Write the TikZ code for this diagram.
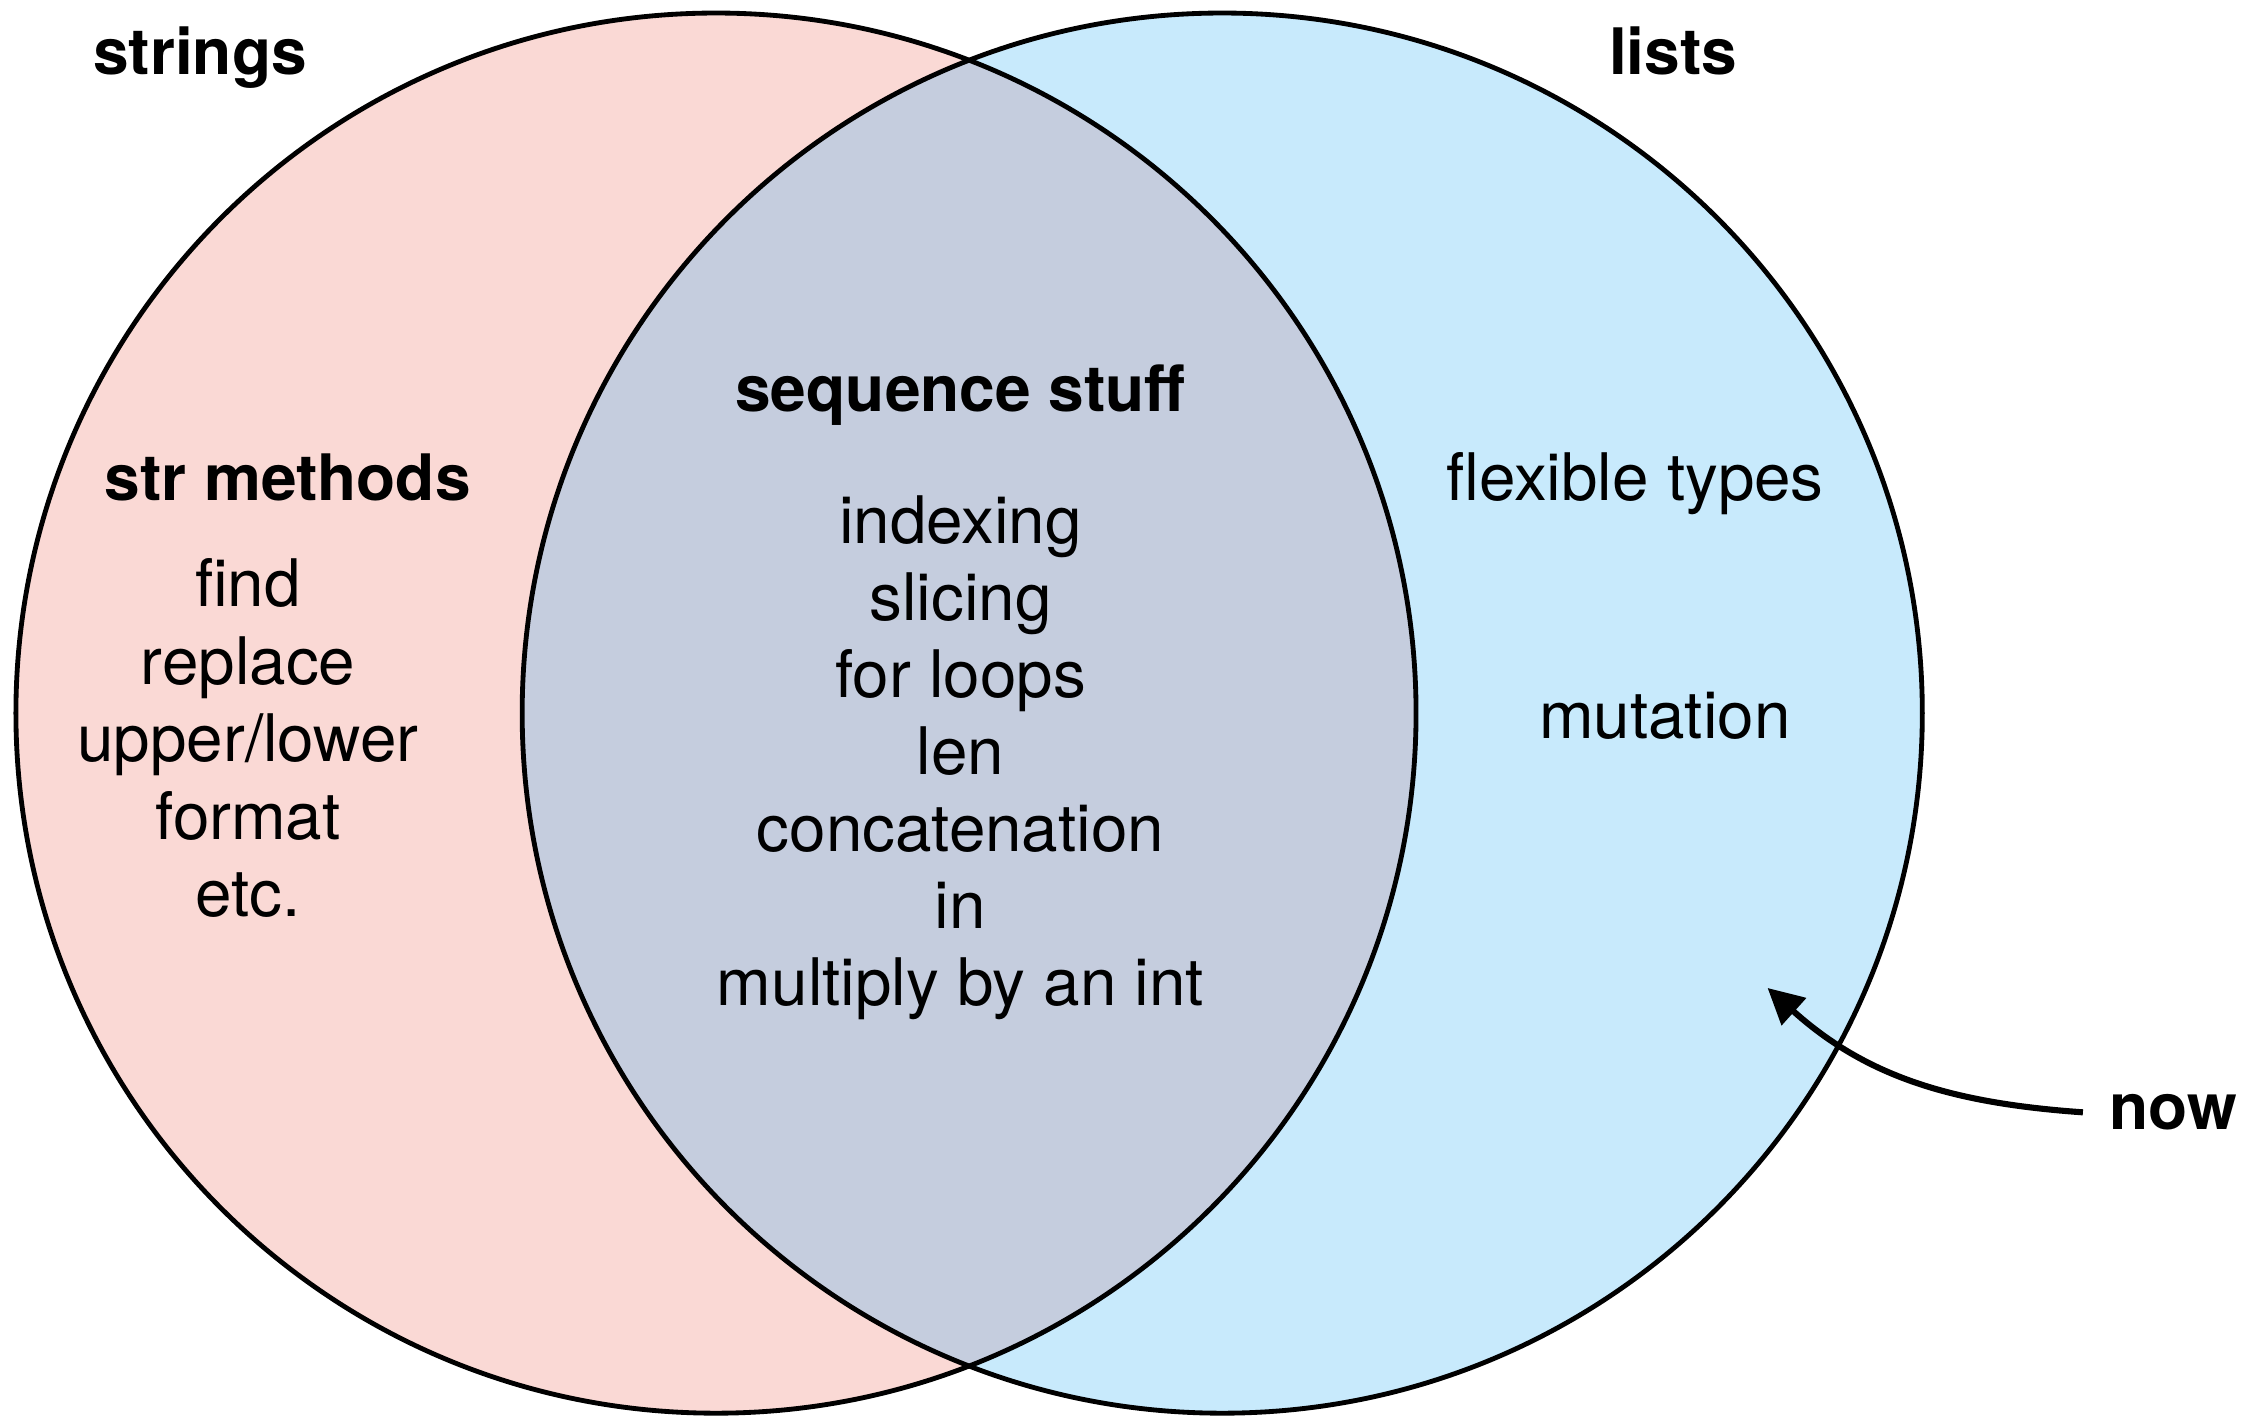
\documentclass[tikz,border=0pt]{standalone}
\usepackage{fontspec}
\setmainfont{TeX Gyre Heros}
\usetikzlibrary{arrows.meta}
\definecolor{strpink}{RGB}{250,217,213}
\definecolor{listblue}{RGB}{200,234,252}
\definecolor{seqgrey}{RGB}{197,205,222}
\tikzset{
  settitle/.style={font=\fontsize{12.6}{15}\selectfont\bfseries, inner sep=0pt, anchor=base},
  setitem/.style={font=\fontsize{12.9}{15}\selectfont, inner sep=0pt, anchor=base},
  setline/.style={line width=0.95pt}
}
\begin{document}
\begin{tikzpicture}
\useasboundingbox (0, 0) rectangle (15.68, 9.80);
\coordinate (strs) at (4.95, 4.87);
\coordinate (lsts) at (8.45, 4.87);
% the two sets and their overlap
\fill[strpink] (strs) circle (4.84);
\fill[listblue] (lsts) circle (4.84);
\begin{scope}
\clip (strs) circle (4.84);
\fill[seqgrey] (lsts) circle (4.84);
\end{scope}
\draw[setline] (strs) circle (4.84);
\draw[setline] (lsts) circle (4.84);
% titles
\node[settitle] (strings) at (1.383, 9.288) {strings};
\node[settitle] (lists) at (11.567, 9.288) {lists};
\node[settitle] (strmeth) at (1.988, 6.343) {str methods};
\node[settitle] (seqstuff) at (6.64, 6.956) {sequence stuff};
% entries
\foreach \txt [count=\i] in {find, replace, upper/lower, format, etc.}
  \node[setitem] (str\i) at (1.715, {6.142-0.536*\i}) {\txt};
\foreach \txt [count=\i] in {indexing, slicing, for loops, len, concatenation, in, multiply by an int}
  \node[setitem] (seq\i) at (6.64, {6.578-0.533*\i}) {\txt};
\node[setitem] (flex) at (11.304, 6.338) {flexible types};
\node[setitem] (mut) at (11.51, 4.696) {mutation};
% pointer
\node[settitle, anchor=west, inner xsep=5pt] (now) at (14.40, 2.11) {now};
\coordinate (nowtip) at (12.22, 2.97);
\draw[line width=1.2pt, -{Triangle[length=7pt, width=7pt]}] (now.west) to[out=176, in=-42] (nowtip);
\end{tikzpicture}
\end{document}
